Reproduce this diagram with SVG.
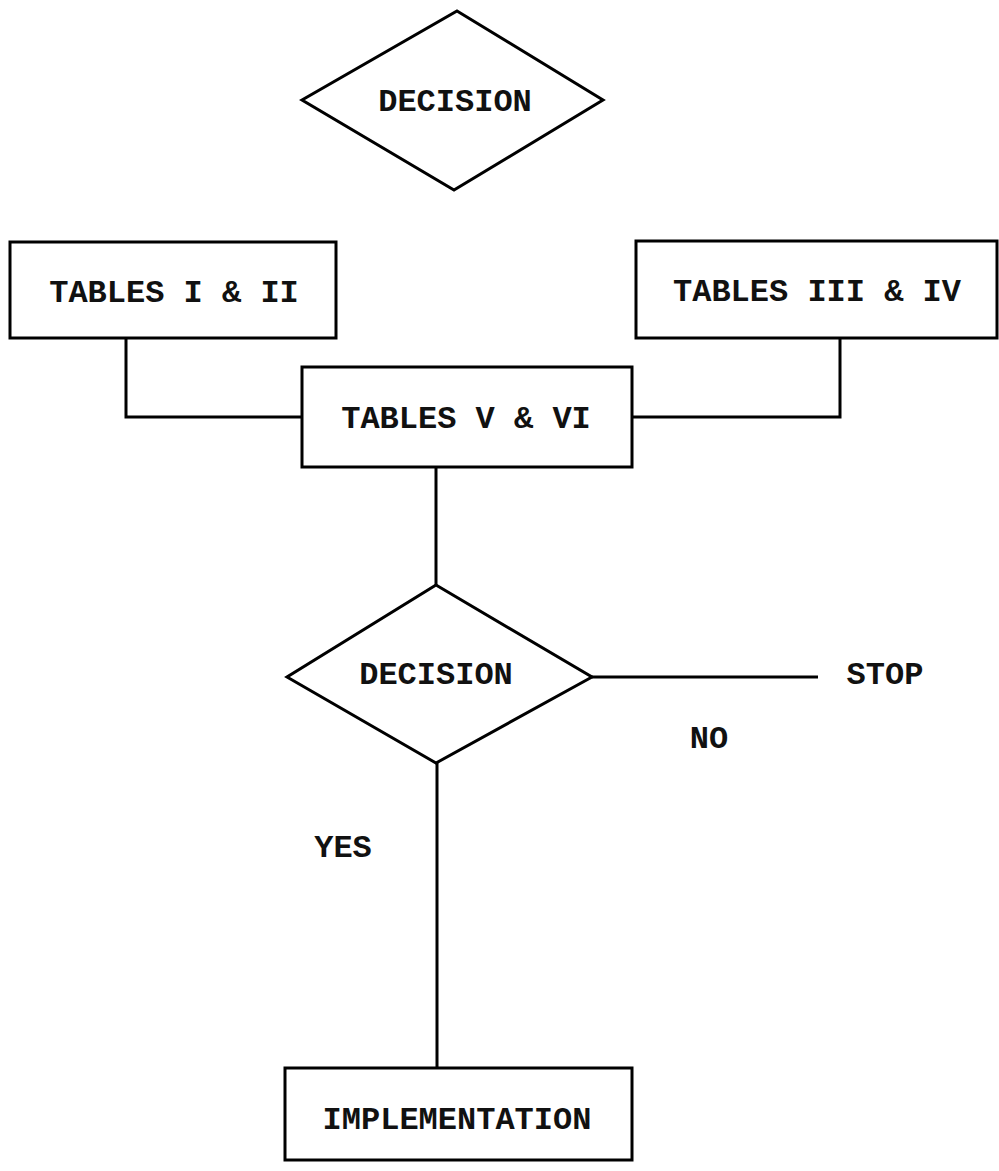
<svg xmlns="http://www.w3.org/2000/svg" width="999" height="1171" viewBox="0 0 999 1171">
  <style>
    .shape { fill: none; stroke: #000; stroke-width: 3; stroke-linejoin: miter; }
    .wire { fill: none; stroke: #000; stroke-width: 3; }
    .label { font-family: "Liberation Mono", "Courier New", monospace; font-weight: bold; font-size: 32px; fill: #111; text-anchor: middle; }
  </style>
  <rect width="999" height="1171" fill="#fff"/>

  <!-- connectors -->
  <g id="connectors">
    <polyline class="wire" points="126,338 126,417 302,417"/>
    <polyline class="wire" points="840,338 840,417 632,417"/>
    <line class="wire" x1="436" y1="467" x2="436" y2="585"/>
    <line class="wire" x1="592" y1="677" x2="818" y2="677"/>
    <line class="wire" x1="437" y1="763" x2="437" y2="1068"/>
  </g>

  <g id="decision-top">
    <polygon class="shape" points="457,11 603,100 454,190 302,100"/>
    <text class="label" x="455" y="111">DECISION</text>
  </g>

  <g id="tables-1-2">
    <rect class="shape" x="10" y="242" width="326" height="96"/>
    <text class="label" x="174" y="302">TABLES I &amp; II</text>
  </g>

  <g id="tables-3-4">
    <rect class="shape" x="636" y="241" width="361" height="97"/>
    <text class="label" x="817" y="301">TABLES III &amp; IV</text>
  </g>

  <g id="tables-5-6">
    <rect class="shape" x="302" y="367" width="330" height="100"/>
    <text class="label" x="466" y="428">TABLES V &amp; VI</text>
  </g>

  <g id="decision-main">
    <polygon class="shape" points="436,585 592,677 436,763 287,677"/>
    <text class="label" x="436" y="684">DECISION</text>
  </g>

  <g id="stop">
    <text class="label" x="885" y="684">STOP</text>
  </g>

  <g id="no-label">
    <text class="label" x="709" y="748">NO</text>
  </g>

  <g id="yes-label">
    <text class="label" x="343" y="857">YES</text>
  </g>

  <g id="implementation">
    <rect class="shape" x="285" y="1068" width="347" height="92"/>
    <text class="label" x="457" y="1129">IMPLEMENTATION</text>
  </g>
</svg>
